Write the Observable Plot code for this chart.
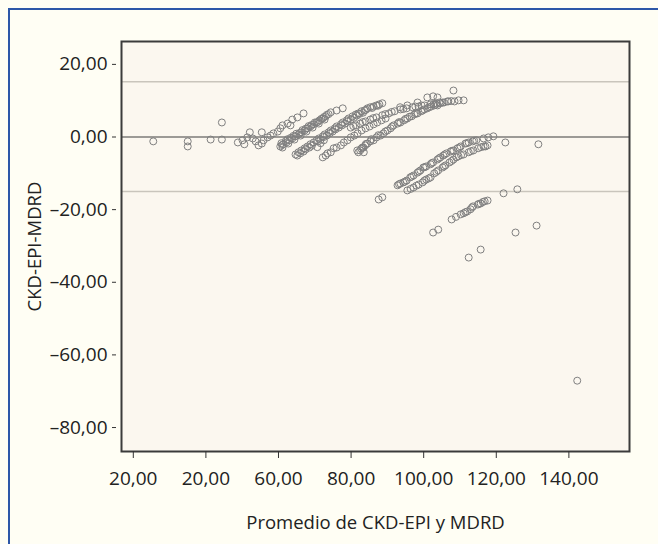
<!DOCTYPE html>
<html>
<head>
<meta charset="utf-8">
<script src="https://cdn.jsdelivr.net/npm/d3@7"></script>
<script src="https://cdn.jsdelivr.net/npm/@observablehq/plot@0.6"></script>
<style>
  html, body { margin: 0; padding: 0; width: 658px; height: 544px; overflow: hidden; background: #fffef4; }
  #border { position: absolute; left: 8px; top: 8px; width: 700px; height: 600px;
            border-left: 2px solid #2d57a8; border-top: 2px solid #2d57a8; }
  #chart { position: absolute; left: 0; top: 0; }
</style>
</head>
<body>
<div id="border"></div>
<div id="chart"></div>
<script>
// Tick values and labels (the original shows "20,00" twice on the x axis)
const xTicks = [20, 40, 60, 80, 100, 120, 140];
const xTickLabels = ["20,00", "20,00", "60,00", "80,00", "100,00", "120,00", "140,00"];
const yTicks = [20, 0, -20, -40, -60, -80];
const yTickLabels = ["20,00", "0,00", "–20,00", "–40,00", "–60,00", "–80,00"];

// Reference lines: limits of agreement and mean difference
const limitLines = [15.2, -15.0];
const meanLine = [0];

const xTitle = "Promedio de CKD-EPI y MDRD";
const yTitle = "CKD-EPI-MDRD";

// Points: [promedio, diferencia]
const puntosIzquierda = [[25.5,-1.2],[35.0,-1.2],[35.0,-2.6],[41.3,-0.7],[44.4,4.0],[44.4,-0.7],[48.8,-1.5],[50.1,-0.9],[50.6,-2.0],[51.4,-0.1],[52.1,1.3],[52.9,-0.4],[53.7,-1.2],[55.4,1.3],[55.4,-1.8],[55.9,-0.9],[57.0,-0.1],[57.8,0.4],[58.6,1.0],[59.8,1.5],[54.5,-2.3]];
const puntosSuperiores = [[60.5,2.4],[61.1,3.2],[62.5,3.7],[63.3,3.2],[63.8,4.8],[65.2,5.4],[66.9,6.5],[93.5,8.2],[95.5,8.7],[98.3,9.5],[101.0,10.9],[102.6,11.2],[103.8,10.9],[108.2,12.8]];
const bandaA = [[60.5,-2.6],[61.1,-2.9],[61.3,-2.0],[62.2,-1.5],[62.7,-1.8],[63.0,-0.9],[63.8,-0.4],[64.4,-0.7],[64.7,0.2],[65.5,0.7],[66.1,0.4],[66.3,1.3],[67.2,1.8],[67.7,1.5],[68.0,2.4],[68.8,2.9],[69.4,2.6],[69.7,3.5],[70.5,4.0],[71.1,3.7],[71.3,4.6],[72.2,5.1],[72.7,4.8],[73.0,5.7],[73.8,6.3],[74.4,6.8],[76.0,7.3],[77.7,7.9],
  [61.0,-2.2],[62.0,-1.1],[63.4,-0.2],[64.9,0.9],[66.6,1.9],[68.3,3.0],[70.0,4.0],[71.8,5.0],[73.3,6.1],[60.8,-1.7],[62.5,-0.6],[64.1,0.3],[65.8,1.1],[67.5,2.3],[69.1,3.3],[70.9,4.2],[72.5,5.5]];
const bandaB = [[64.7,-4.8],[65.2,-5.1],[65.5,-4.2],[66.3,-3.7],[66.9,-4.0],[67.2,-3.1],[68.0,-2.6],[68.5,-2.9],[68.8,-2.0],[69.7,-1.5],[70.5,-0.9],[71.1,-0.4],[71.6,-0.7],[72.2,0.2],[72.7,0.7],[73.3,0.4],[73.8,1.3],[74.4,1.8],[74.9,1.5],[75.5,2.4],[76.0,2.9],[76.6,2.6],[77.2,3.5],[77.7,4.0],[78.3,3.7],[78.8,4.6],[79.3,5.1],[79.9,4.8],[80.4,5.7],[81.3,6.2],[82.0,6.5],[82.9,7.1],[83.7,7.3],[84.5,7.9],[85.3,8.2],[86.2,8.4],[87.0,8.7],[87.8,9.0],[88.6,9.3],
  [66.0,-4.5],[67.5,-3.4],[69.2,-2.4],[70.9,-1.2],[72.5,0.0],[74.1,1.0],[75.7,2.1],[77.5,3.2],[79.0,4.3],[80.8,5.3],[82.4,6.4],[84.1,7.5],[85.8,8.0],[87.4,8.6],[83.3,6.7],[81.6,5.9]];
const bandaB2 = [[72.2,-5.6],[73.0,-5.1],[73.5,-4.5],[74.4,-4.2],[75.2,-3.1],[76.0,-2.9],[77.2,-2.3],[78.0,-1.5],[79.0,-0.9],[79.9,-0.1],[80.9,0.4],[81.8,1.0],[82.9,1.8],[84.0,2.4],[85.1,2.9],[86.2,3.5],[87.2,4.0],[88.4,4.6],[89.5,5.1]];
const bandaB3 = [[79.9,2.6],[81.3,3.2],[82.5,3.7],[84.0,4.3],[85.3,4.8],[87.0,5.4],[88.6,6.0],[90.4,6.5],[92.0,7.1],[93.6,7.6],[95.3,7.9],[96.9,8.2],[98.6,8.4],[100.2,8.7],[101.9,9.0],[103.5,9.3],[105.2,9.5],[106.8,9.8],[108.5,9.8],[109.6,10.1],[111.0,10.1],
  [80.6,3.0],[83.2,4.1],[86.1,5.2],[89.4,6.3],[91.2,6.9],[94.4,7.7],[97.7,8.4],[99.4,8.7],[102.7,9.1],[104.3,9.5],[107.6,9.9]];
const bandaC = [[82.0,-4.2],[82.5,-3.7],[83.4,-2.9],[83.9,-2.3],[84.5,-1.8],[85.3,-1.2],[86.2,-0.9],[87.0,-0.1],[88.1,0.4],[88.9,1.0],[90.0,1.8],[90.9,2.4],[91.7,3.2],[92.8,3.7],[93.6,4.0],[94.6,4.6],[95.5,5.1],[96.7,5.7],[97.4,6.2],[98.3,6.5],[99.3,7.1],[100.2,7.6],[101.0,7.9],[102.1,8.4],[102.9,8.7],[103.8,8.7],[104.6,9.3],[105.6,9.5],[106.5,9.8],[81.7,-3.7],[83.5,-4.2],[83.1,-2.9],[70.7,-2.8],[71.6,-1.7],[72.5,-0.9],
  [82.8,-3.2],[84.1,-1.9],[85.6,-0.6],[87.5,0.5],[89.4,1.5],[91.3,2.9],[93.2,4.1],[95.0,5.0],[96.1,5.6],[97.9,6.5],[99.7,7.3],[101.5,8.2],[103.3,8.9]];
const bandaE = [[87.6,-17.2],[88.6,-16.6],[92.8,-13.3],[93.6,-12.8],[94.4,-12.5],[95.3,-12.0],[96.3,-11.1],[97.2,-10.6],[98.3,-9.8],[99.1,-9.2],[99.9,-8.4],[100.7,-8.1],[101.9,-7.5],[102.6,-7.0],[103.8,-6.2],[104.6,-5.6],[105.4,-5.1],[106.3,-4.5],[107.4,-4.0],[108.2,-3.7],[109.3,-3.1],[110.2,-2.6],[111.5,-1.8],[112.4,-1.5],[113.5,-1.2],[114.5,-0.9],[116.5,-0.4],[117.0,-2.6],[117.8,-0.1],[119.2,0.2],[122.5,-1.5],[131.6,-2.0],
  [93.2,-13.0],[94.8,-12.3],[96.7,-10.9],[98.7,-9.5],[100.3,-8.3],[102.2,-7.2],[104.2,-5.9],[105.8,-4.8],[107.8,-3.8],[109.8,-2.9],[111.9,-1.7],[113.9,-1.0]];
const bandaF = [[95.5,-14.7],[97.2,-13.9],[98.6,-13.1],[99.7,-12.5],[100.7,-11.7],[101.9,-11.1],[102.9,-10.0],[104.0,-9.2],[105.2,-8.4],[106.0,-7.8],[107.1,-7.0],[108.2,-6.2],[109.6,-5.3],[111.0,-4.8],[112.4,-4.2],[113.7,-3.7],[115.0,-3.1],[116.5,-2.6],[117.6,-2.3],
  [96.4,-14.3],[98.0,-13.4],[100.2,-12.0],[101.4,-11.4],[103.5,-9.6],[105.6,-8.1],[107.7,-6.6],[109.0,-5.6],[110.3,-5.0],[113.0,-3.9],[115.8,-2.8]];
const bandaG = [[102.6,-26.3],[104.0,-25.5],[107.7,-22.7],[110.2,-21.3],[111.0,-21.0],[112.0,-20.5],[112.9,-19.9],[113.6,-19.1],[114.9,-18.6],[115.7,-18.3],[116.8,-17.7],[117.6,-17.5],[122.0,-15.5],[125.8,-14.4],[115.7,-31.0],[112.4,-33.2],[125.3,-26.3],[131.1,-24.4],[142.3,-67.1],
  [108.9,-22.0],[111.5,-20.7],[113.3,-19.4],[115.2,-18.4],[116.3,-17.9]];

const puntos = [...puntosIzquierda, ...puntosSuperiores, ...bandaA, ...bandaB, ...bandaB2, ...bandaB3, ...bandaC, ...bandaE, ...bandaF, ...bandaG]
  .map(([promedio, diferencia]) => ({promedio, diferencia}));

const font = "'Open Sans', 'DejaVu Sans', sans-serif";

const chart = Plot.plot({
  width: 658,
  height: 544,
  marginLeft: 121,
  marginRight: 29,
  marginTop: 41,
  marginBottom: 93,
  style: {background: "transparent", fontFamily: font, fontSize: "19px", color: "#222"},
  x: {domain: [16.75, 156.7]},
  y: {domain: [-86.6, 26.3]},
  marks: [
    Plot.frame({fill: "#fbf7ef", stroke: null}),
    Plot.ruleY(limitLines, {stroke: "#c9c5bc", strokeWidth: 1.5}),
    Plot.ruleY(meanLine, {stroke: "#9c9a96", strokeWidth: 1.8}),
    Plot.dot(puntos, {x: "promedio", y: "diferencia", r: 3.5, stroke: "#808080", strokeWidth: 1, fill: "none"}),
    Plot.frame({stroke: "#3b3b3b", strokeWidth: 2}),
    Plot.axisX({
      ticks: xTicks,
      tickFormat: d => xTickLabels[xTicks.indexOf(d)],
      tickSize: 7, tickPadding: 13, label: null, stroke: "#333", fill: "#222"
    }),
    Plot.axisY({
      ticks: yTicks,
      tickFormat: d => yTickLabels[yTicks.indexOf(d)],
      tickSize: 4, tickPadding: 5, dx: -5, label: null, stroke: "#333", fill: "#222"
    }),
    Plot.text([xTitle], {frameAnchor: "bottom", lineAnchor: "middle", dy: 72, fontSize: 18.5, fill: "#222"}),
    Plot.text([yTitle], {frameAnchor: "left", textAnchor: "middle", lineAnchor: "middle", rotate: -90, dx: -86, fontSize: 18.5, fill: "#222"})
  ]
});
document.getElementById("chart").appendChild(chart);
</script>
</body>
</html>
